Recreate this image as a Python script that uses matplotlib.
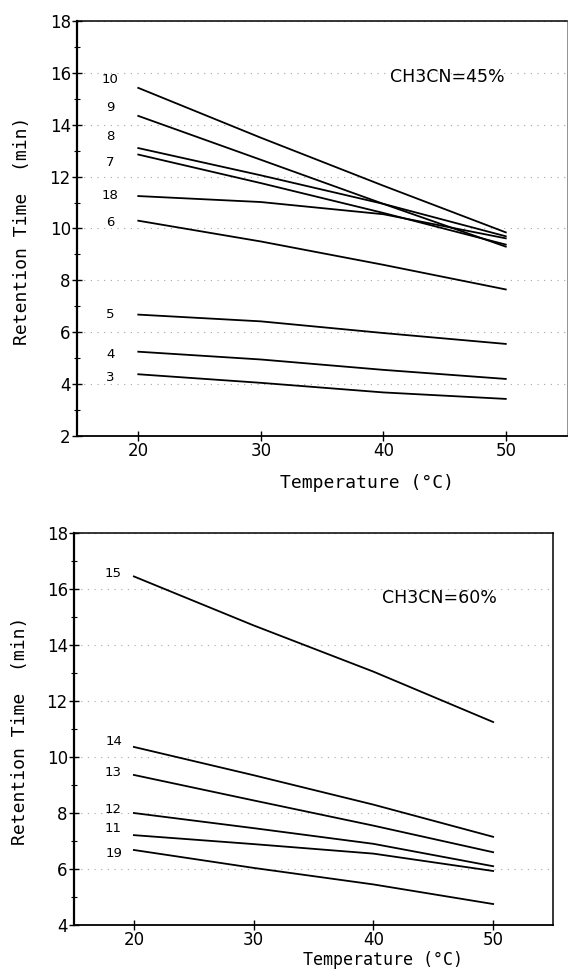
import matplotlib.pyplot as plt
from matplotlib.ticker import MultipleLocator

# temperatures (deg C)
temps = [20, 30, 40, 50]

# CH3CN = 45 %
top_ids = ["10", "9", "8", "7", "18", "6", "5", "4", "3"]
top_rt = [
    [15.42, 13.50, 11.65, 9.85],
    [14.34, 12.65, 10.95, 9.30],
    [13.10, 12.05, 10.95, 9.70],
    [12.85, 11.75, 10.60, 9.38],
    [11.25, 11.02, 10.55, 9.62],
    [10.30, 9.50, 8.60, 7.65],
    [6.68, 6.42, 5.97, 5.55],
    [5.25, 4.95, 4.55, 4.20],
    [4.38, 4.05, 3.68, 3.43],
]

# CH3CN = 60 %
bot_ids = ["15", "14", "13", "12", "11", "19"]
bot_rt = [
    [16.45, 14.70, 13.05, 11.25],
    [10.36, 9.35, 8.30, 7.15],
    [9.36, 8.45, 7.55, 6.60],
    [8.00, 7.46, 6.90, 6.10],
    [7.21, 6.89, 6.55, 5.93],
    [6.68, 6.04, 5.45, 4.75],
]

# where the compound numbers sit
top_lab_y = [15.76, 14.65, 13.53, 12.56, 11.29, 10.25, 6.67, 5.16, 4.27]
bot_lab_y = [16.54, 10.54, 9.46, 8.14, 7.43, 6.57]

fig = plt.figure(figsize=(5.68, 9.80), dpi=100)
ax1 = fig.add_axes([0.1356, 0.5551, 0.8627, 0.4235])
ax2 = fig.add_axes([0.1303, 0.0561, 0.8433, 0.4000])


def style(ax, ymin):
    ax.set_xlim(15, 55)
    ax.set_ylim(ymin, 18)
    ax.set_xticks(temps)
    ax.yaxis.set_major_locator(MultipleLocator(2))
    ax.yaxis.set_minor_locator(MultipleLocator(1))
    ax.tick_params(which="major", direction="inout", length=7, width=1.0,
                   labelsize=12, pad=1)
    ax.tick_params(which="minor", direction="inout", length=4, width=0.8)
    ax.tick_params(axis="x", which="minor", length=0)
    ax.yaxis.grid(True, linestyle=(0, (1, 5)), color="0.65", lw=0.8)
    for s in ax.spines.values():
        s.set_linewidth(1.1)
    ax.spines["left"].set_linewidth(1.6)
    ax.spines["bottom"].set_linewidth(1.3)


style(ax1, 2)
style(ax2, 4)
ax1.spines["right"].set_linewidth(0.6)
ax1.spines["right"].set_color("0.5")

for name, rt, ly in zip(top_ids, top_rt, top_lab_y):
    ax1.plot(temps, rt, color="black", lw=1.3)
    ax1.text(17.7, ly, name, ha="center", va="center", fontsize=9.5)

for name, rt, ly in zip(bot_ids, bot_rt, bot_lab_y):
    ax2.plot(temps, rt, color="black", lw=1.3)
    ax2.text(18.3, ly, name, ha="center", va="center", fontsize=9.5)

ax1.text(49.9, 15.84, "CH3CN=45%", ha="right", va="center", fontsize=12.5)
ax2.text(50.3, 15.68, "CH3CN=60%", ha="right", va="center", fontsize=12.5)

mono = "DejaVu Sans Mono"
fig.text(0.038, 0.764, "Retention Time  (min)", rotation=90, ha="center",
         va="center", family=mono, fontsize=13)
fig.text(0.035, 0.254, "Retention Time  (min)", rotation=90, ha="center",
         va="center", family=mono, fontsize=13)
fig.text(0.646, 0.507, "Temperature (°C)", ha="center", va="center",
         family=mono, fontsize=13)
fig.text(0.674, 0.0204, "Temperature (°C)", ha="center", va="center",
         family=mono, fontsize=12)

fig.savefig("out.png", dpi=100)
